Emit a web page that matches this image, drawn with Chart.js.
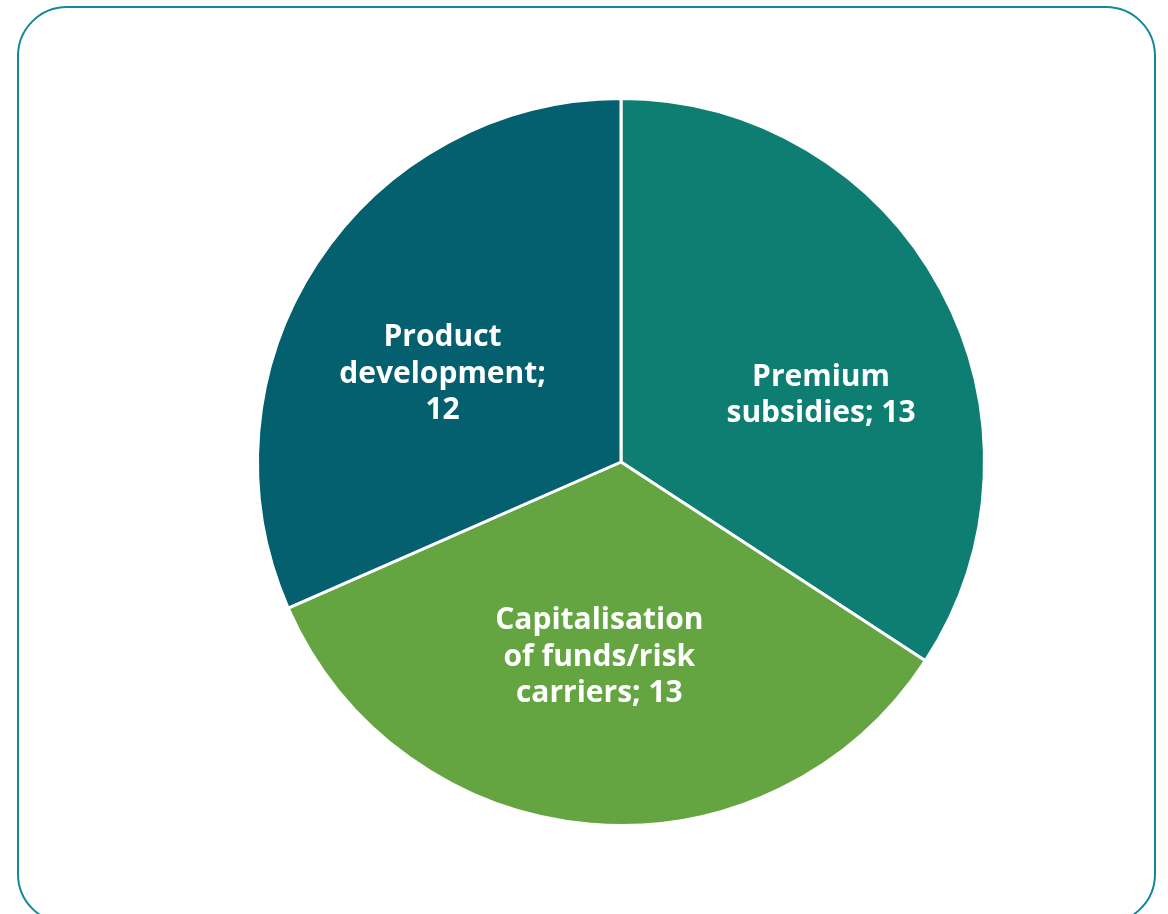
<!DOCTYPE html>
<html>
<head>
    <title>Pie chart</title>
    <script src="https://cdn.jsdelivr.net/npm/chart.js"></script>
    <style>
        html, body { margin: 0; padding: 0; background: #ffffff; overflow: hidden; }
        .frame {
            position: absolute; left: 17px; top: 6px;
            width: 1135px; height: 914px;
            border: 2.5px solid #12899a; border-radius: 50px;
        }
        .wrap { position: absolute; left: 0; top: 0; width: 1168px; height: 914px; }
    </style>
</head>
<body>
<div class="frame"></div>
<div class="wrap"><canvas id="pieChart" width="1168" height="914"></canvas></div>
<script>
    // chart data
    const categories = ['Premium subsidies', 'Capitalisation of funds/risk carriers', 'Product development'];
    const values = [13, 13, 12];
    const labelLines = [
        ['Premium', 'subsidies; 13'],
        ['Capitalisation', 'of funds/risk', 'carriers; 13'],
        ['Product', 'development;', '12']
    ];
    const colors = ['#0e7e72', '#64a542', '#04606f'];

    // label placement: fraction of radius, angle shift (degrees) from slice middle
    const labelPlace = [[0.58, 10], [0.54, 1.6], [0.547, -7]];

    const sliceLabels = {
        id: 'sliceLabels',
        afterDatasetsDraw(chart) {
            const ctx = chart.ctx;
            const meta = chart.getDatasetMeta(0);
            ctx.save();
            ctx.fillStyle = '#ffffff';
            ctx.font = 'bold 30px "Open Sans", "DejaVu Sans", sans-serif';
            ctx.textAlign = 'center';
            ctx.textBaseline = 'middle';
            meta.data.forEach((arc, i) => {
                const p = arc.getProps(['x', 'y', 'startAngle', 'endAngle', 'outerRadius'], true);
                const mid = (p.startAngle + p.endAngle) / 2 + labelPlace[i][1] * Math.PI / 180;
                const r = p.outerRadius * labelPlace[i][0];
                const cx = p.x + Math.cos(mid) * r;
                const cy = p.y + Math.sin(mid) * r;
                const lines = labelLines[i];
                const lh = 36.5;
                lines.forEach((t, k) => {
                    ctx.fillText(t, cx, cy + (k - (lines.length - 1) / 2) * lh);
                });
            });
            ctx.restore();
        }
    };

    new Chart(document.getElementById('pieChart').getContext('2d'), {
        type: 'pie',
        data: {
            labels: categories,
            datasets: [{
                data: values,
                backgroundColor: colors,
                borderColor: '#ffffff',
                borderWidth: 3
            }]
        },
        options: {
            responsive: false,
            animation: false,
            layout: { padding: { left: 256, right: 182, top: 97, bottom: 87 } },
            plugins: {
                legend: { display: false },
                tooltip: { enabled: false }
            }
        },
        plugins: [sliceLabels]
    });
</script>
</body>
</html>
